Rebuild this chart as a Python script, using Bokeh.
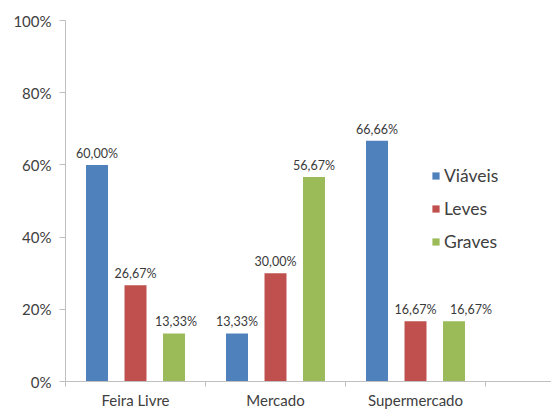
from bokeh.plotting import figure
from bokeh.models import ColumnDataSource, FixedTicker, Range1d, Legend, LegendItem
from bokeh.core.properties import value
from bokeh.embed import file_html
from bokeh.resources import INLINE

categories = ["Feira Livre", "Mercado", "Supermercado"]
series = ["Viáveis", "Leves", "Graves"]
viaveis = [60.00, 13.33, 66.66]
leves = [26.67, 30.00, 16.67]
graves = [13.33, 56.67, 16.67]
y_ticks = [0, 20, 40, 60, 80, 100]
y_labels = ["0%", "20%", "40%", "60%", "80%", "100%"]

colors = ["#4f81bd", "#c0504d", "#9bbb59"]
values = [viaveis, leves, graves]
offsets = [-0.275, 0.0, 0.275]
bar_w = 0.157
FONT = "Lato"
# horizontal nudges (px) of data labels, per series, to avoid overlap (as in the original)
label_nudge = [[0, 0, 0], [0, 0, 0], [2, 0, 17]]

p = figure(width=551, height=411, output_backend="svg", toolbar_location=None,
           x_range=Range1d(0, 486 / 140), y_range=Range1d(0, 100),
           min_border_left=65, min_border_right=0, min_border_top=20,
           min_border_bottom=0)
p.outline_line_color = None
p.xgrid.visible = False
p.ygrid.visible = False
p.background_fill_color = "white"
p.border_fill_color = "white"

centers = [i + 0.5 for i in range(len(categories))]
legend_items = []
for vals, col, off, name, nudge in zip(values, colors, offsets, series, label_nudge):
    src = ColumnDataSource(dict(
        x=[c + off for c in centers],
        top=vals,
        lbl=[f"{v:.2f}%".replace(".", ",") for v in vals],
        dx=nudge,
    ))
    r = p.vbar(x="x", top="top", width=bar_w, source=src, color=col, line_color=None)
    p.text(x="x", y="top", text="lbl", source=src, text_align="center",
           text_baseline="bottom", y_offset=-4, x_offset="dx", text_font=value(FONT),
           text_font_size="12.5px", text_color="#3a3a3a")
    legend_items.append(LegendItem(label=name, renderers=[r]))

legend = Legend(items=legend_items, location=(366, 129))
legend.glyph_width = 9
legend.glyph_height = 9
legend.label_standoff = 4
legend.spacing = 12
legend.padding = 0
legend.margin = 0
legend.border_line_color = None
legend.background_fill_alpha = 0
legend.label_text_font = FONT
legend.label_text_font_size = "17.5px"
legend.label_text_color = "#404040"
p.add_layout(legend)

# y axis
ya = p.yaxis[0]
ya.ticker = FixedTicker(ticks=y_ticks)
ya.major_label_overrides = {t: l for t, l in zip(y_ticks, y_labels)}
ya.axis_line_color = "#bfbfbf"
ya.major_tick_line_color = "#bfbfbf"
ya.major_tick_out = 6
ya.major_tick_in = 0
ya.minor_tick_line_color = None
ya.major_label_text_font = FONT
ya.major_label_text_font_size = "15px"
ya.major_label_text_color = "#404040"
ya.major_label_standoff = 8

# x axis
xa = p.xaxis[0]
xa.ticker = FixedTicker(ticks=centers, minor_ticks=[0, 1, 2, 3])
xa.major_label_overrides = {c: n for c, n in zip(centers, categories)}
xa.axis_line_color = "#bfbfbf"
xa.major_tick_line_color = None
xa.minor_tick_line_color = "#bfbfbf"
xa.minor_tick_out = 5
xa.minor_tick_in = 0
xa.major_tick_out = 5
xa.major_label_text_font = FONT
xa.major_label_text_font_size = "15px"
xa.major_label_text_color = "#404040"
xa.major_label_standoff = 4

open("out.html", "w").write(file_html(p, INLINE))
